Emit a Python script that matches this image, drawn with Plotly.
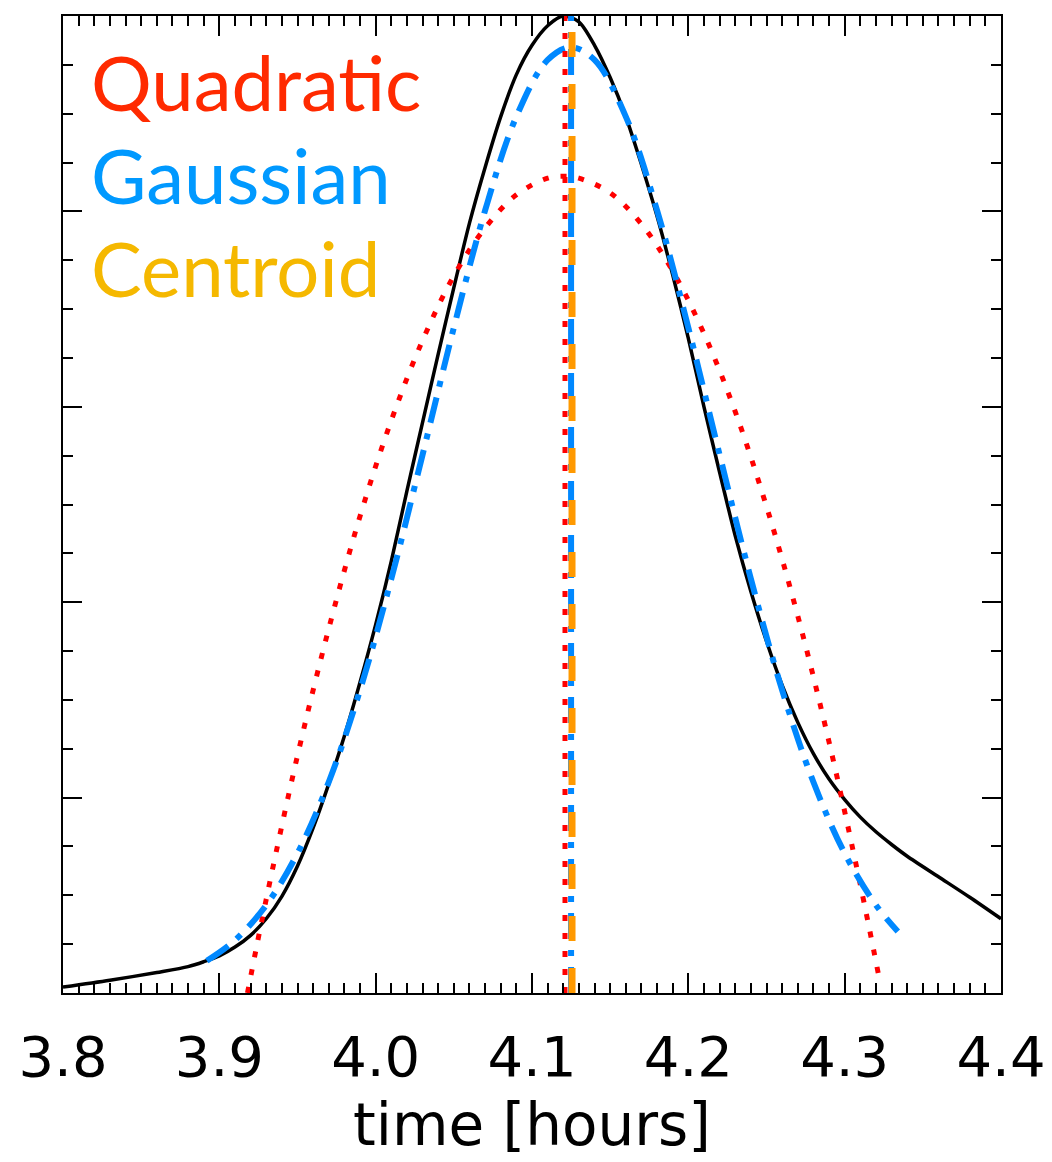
import plotly.graph_objects as go

# ---- data ----
data_x = [3.80, 3.83, 3.86, 3.88, 3.89, 3.90, 3.91, 3.92, 3.93, 3.94, 3.95, 3.96, 3.97,
          3.98, 3.99, 4.00, 4.01, 4.02, 4.03, 4.04, 4.05, 4.06, 4.07, 4.08, 4.09, 4.10,
          4.11, 4.12, 4.13, 4.14, 4.15, 4.16, 4.17, 4.18, 4.19, 4.20, 4.21, 4.22, 4.23,
          4.24, 4.25, 4.26, 4.27, 4.28, 4.29, 4.30, 4.31, 4.32, 4.33, 4.34, 4.36, 4.38, 4.40]
data_y = [0.006, 0.013, 0.021, 0.027, 0.032, 0.038, 0.047, 0.059, 0.076, 0.099, 0.130, 0.169, 0.214,
          0.263, 0.318, 0.377, 0.442, 0.514, 0.584, 0.654, 0.722, 0.788, 0.845, 0.897, 0.940, 0.970,
          0.990, 1.000, 0.994, 0.970, 0.937, 0.897, 0.848, 0.795, 0.735, 0.670, 0.600, 0.533, 0.468,
          0.411, 0.360, 0.315, 0.277, 0.245, 0.219, 0.198, 0.180, 0.165, 0.152, 0.140, 0.119, 0.098, 0.076]

quad_x = [3.918, 3.93, 3.95, 3.97, 3.99, 4.01, 4.03, 4.05, 4.07, 4.09, 4.11, 4.121,
          4.13, 4.15, 4.17, 4.19, 4.21, 4.23, 4.25, 4.27, 4.29, 4.31, 4.322]
quad_y = [0.000, 0.096, 0.243, 0.373, 0.488, 0.586, 0.668, 0.734, 0.783, 0.817, 0.834, 0.836,
          0.834, 0.819, 0.787, 0.739, 0.675, 0.595, 0.498, 0.386, 0.257, 0.111, 0.016]

gauss_x = [3.892, 3.91, 3.93, 3.95, 3.97, 3.99, 4.01, 4.03, 4.05, 4.07, 4.09, 4.11, 4.125,
           4.14, 4.16, 4.18, 4.20, 4.22, 4.24, 4.26, 4.28, 4.30, 4.32, 4.334]
gauss_y = [0.033, 0.054, 0.090, 0.143, 0.216, 0.310, 0.424, 0.551, 0.681, 0.801, 0.897, 0.955, 0.968,
           0.955, 0.897, 0.801, 0.681, 0.551, 0.424, 0.310, 0.216, 0.143, 0.090, 0.063]

peak_quadratic = 4.1211
peak_gaussian = 4.1250
peak_centroid = 4.1256

labels = ["Quadratic", "Gaussian", "Centroid"]
label_colors = ["#FF2A00", "#0099FF", "#F5B800"]
x_ticks = [3.8, 3.9, 4.0, 4.1, 4.2, 4.3, 4.4]

fig = go.Figure()
fig.add_trace(go.Scatter(x=data_x, y=data_y, mode="lines",
                         line=dict(color="black", width=3.5, shape="spline", smoothing=0.8)))
fig.add_trace(go.Scatter(x=quad_x, y=quad_y, mode="lines",
                         line=dict(color="#FF0000", width=5, dash="6px,12px", shape="spline")))
fig.add_trace(go.Scatter(x=gauss_x, y=gauss_y, mode="lines",
                         line=dict(color="#0088FF", width=6, dash="26px,11px,6px,11px", shape="spline")))
fig.add_trace(go.Scatter(x=[peak_quadratic, peak_quadratic], y=[0, 1], mode="lines",
                         line=dict(color="#FF0000", width=5, dash="6px,12px")))
fig.add_trace(go.Scatter(x=[peak_gaussian, peak_gaussian], y=[0, 1], mode="lines",
                         line=dict(color="#0088FF", width=6, dash="26px,11px,6px,11px")))
fig.add_trace(go.Scatter(x=[peak_centroid, peak_centroid], y=[0, 1], mode="lines",
                         line=dict(color="#FF9900", width=7, dash="25px,27px")))

for i, (t, c) in enumerate(zip(labels, label_colors)):
    fig.add_annotation(x=0.028, y=1 - (0.067 + i * 0.095), xref="paper", yref="paper",
                       text=t, showarrow=False, xanchor="left", yanchor="middle",
                       font=dict(family="Lato", size=76, color=c))

fig.update_layout(
    width=1052, height=1162,
    margin=dict(l=63, r=51, t=16, b=169, autoexpand=False),
    paper_bgcolor="white", plot_bgcolor="white",
    showlegend=False,
    xaxis=dict(range=[3.8, 4.4], tickvals=x_ticks, ticktext=[f"{v:.1f}" for v in x_ticks],
               automargin=False,
               ticks="inside", ticklen=20, tickwidth=1.5, tickcolor="black",
               minor=dict(dtick=0.01, ticks="inside", ticklen=10, tickwidth=1.5, tickcolor="black"),
               showline=True, linecolor="black", linewidth=2, mirror="ticks",
               showgrid=False, zeroline=False, ticklabelstandoff=14,
               tickfont=dict(family="DejaVu Sans", size=56, color="black"),
               title=dict(text="time [hours]", font=dict(family="DejaVu Sans", size=58, color="black"),
                          standoff=16)),
    yaxis=dict(range=[0, 1], dtick=0.2, tick0=0, showticklabels=False, automargin=False,
               ticks="inside", ticklen=19, tickwidth=1.5, tickcolor="black",
               minor=dict(dtick=0.05, ticks="inside", ticklen=10, tickwidth=1.5, tickcolor="black"),
               showline=True, linecolor="black", linewidth=2, mirror="ticks",
               showgrid=False, zeroline=False),
)

fig.write_html("out.html")
